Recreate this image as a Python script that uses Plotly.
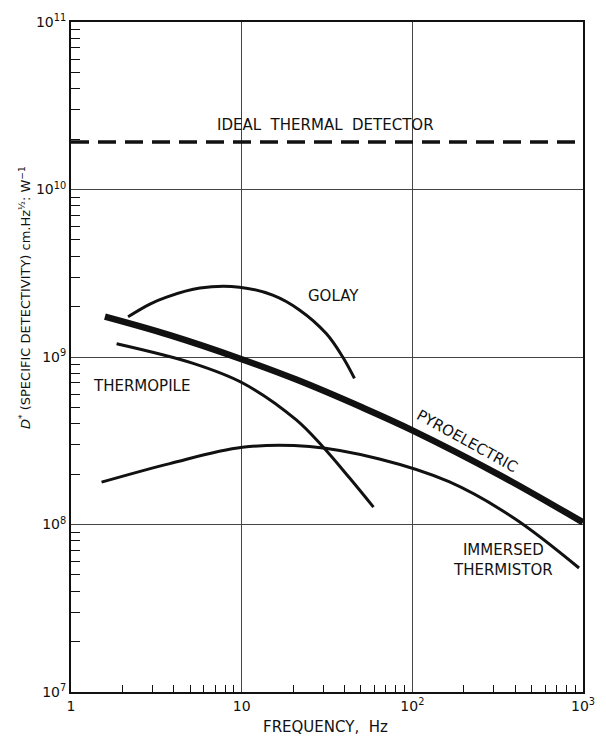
import plotly.graph_objects as go

# ---- data ----
ideal_f = [1, 1000]
ideal_d = [1.92e10, 1.92e10]

pyro_f = [1.58, 3.79, 10, 20.9, 51, 100, 323, 1000]
pyro_d = [1.74e9, 1.35e9, 9.7e8, 7.33e8, 4.99e8, 3.65e8, 1.98e8, 1.03e8]

golay_f = [2.16, 2.9, 3.63, 5.7, 9.7, 15.2, 21.8, 31.3, 39.1, 45.8]
golay_d = [1.74e9, 2.07e9, 2.28e9, 2.58e9, 2.61e9, 2.34e9, 1.91e9, 1.38e9, 1.0e9, 7.46e8]

thermopile_f = [1.85, 5.2, 10.2, 20.9, 29.9, 42.8, 59.2]
thermopile_d = [1.2e9, 9.16e8, 6.97e8, 4.21e8, 2.91e8, 1.90e8, 1.27e8]

thermistor_f = [1.51, 3.79, 10.1, 25.0, 64.1, 164, 395, 948]
thermistor_d = [1.79e8, 2.31e8, 2.89e8, 2.92e8, 2.46e8, 1.80e8, 1.09e8, 5.5e7]

x_tickvals = [1, 10, 100, 1000]
x_ticktext = ["1", "10", "10<sup>2</sup>", "10<sup>3</sup>"]
y_tickvals = [1e7, 1e8, 1e9, 1e10, 1e11]
y_ticktext = ["10<sup>7</sup>", "10<sup>8</sup>", "10<sup>9</sup>", "10<sup>10</sup>", "10<sup>11</sup>"]

FONT = "DejaVu Sans"
INK = "#111111"

fig = go.Figure()
fig.add_trace(go.Scatter(x=ideal_f, y=ideal_d, mode="lines",
                         line=dict(color=INK, width=3.5, dash="18px,9px")))
fig.add_trace(go.Scatter(x=thermistor_f, y=thermistor_d, mode="lines",
                         line=dict(color=INK, width=3, shape="spline")))
fig.add_trace(go.Scatter(x=thermopile_f, y=thermopile_d, mode="lines",
                         line=dict(color=INK, width=3, shape="spline")))
fig.add_trace(go.Scatter(x=golay_f, y=golay_d, mode="lines",
                         line=dict(color=INK, width=3, shape="spline")))
fig.add_trace(go.Scatter(x=pyro_f, y=pyro_d, mode="lines",
                         line=dict(color=INK, width=6.5, shape="spline")))

minor_x = [m * 10 ** e for e in range(0, 3) for m in range(2, 10)]
minor_y = [m * 10 ** e for e in range(7, 11) for m in range(2, 10)]

fig.update_xaxes(type="log", range=[0, 3], tickvals=x_tickvals, ticktext=x_ticktext,
                 showgrid=True, gridcolor="#444444", gridwidth=1,
                 showline=True, linecolor=INK, linewidth=2, mirror=True,
                 ticks="", zeroline=False,
                 minor=dict(tickvals=minor_x, ticks="inside", ticklen=7, tickcolor=INK, showgrid=False),
                 tickfont=dict(family=FONT, size=14, color=INK))
fig.update_yaxes(type="log", range=[7, 11], tickvals=y_tickvals, ticktext=y_ticktext,
                 showgrid=True, gridcolor="#444444", gridwidth=1,
                 showline=True, linecolor=INK, linewidth=2, mirror=True,
                 ticks="", zeroline=False,
                 minor=dict(tickvals=minor_y, ticks="inside", ticklen=9, tickcolor=INK, showgrid=False),
                 tickfont=dict(family=FONT, size=14, color=INK))

fig.update_layout(
    width=606, height=739,
    margin=dict(l=71, r=23, t=22, b=47),
    paper_bgcolor="white", plot_bgcolor="white",
    showlegend=False,
    font=dict(family=FONT, color=INK),
)

def px2paper_x(px):
    return (px - 71) / (583 - 71)

def px2paper_y(py):
    return (692 - py) / (692 - 22)

ann_font = dict(family=FONT, size=15, color=INK)
labels = [
    (325, 125, "IDEAL  THERMAL  DETECTOR", 0),
    (333, 296, "GOLAY", 0),
    (141, 386, "THERMOPILE", 0),
    (467, 441, "PYROELECTRIC", 29),
    (503, 560, "IMMERSED<br>THERMISTOR", 0),
]
for x, y, t, ang in labels:
    fig.add_annotation(x=px2paper_x(x), y=px2paper_y(y), xref="paper", yref="paper",
                       text=t, showarrow=False, textangle=ang, font=ann_font,
                       align="center", xanchor="center", yanchor="middle")

fig.add_annotation(x=px2paper_x(325), y=px2paper_y(727), xref="paper", yref="paper",
                   text="FREQUENCY,  Hz", showarrow=False, font=ann_font,
                   xanchor="center", yanchor="middle")
fig.add_annotation(x=px2paper_x(25), y=px2paper_y(298), xref="paper", yref="paper",
                   text="<i>D</i><sup>*</sup> (SPECIFIC DETECTIVITY) cm.Hz<sup>½</sup>: W<sup>−1</sup>",
                   showarrow=False, textangle=-90, font=dict(family=FONT, size=13, color=INK),
                   xanchor="center", yanchor="middle")

fig.write_html("out.html")
